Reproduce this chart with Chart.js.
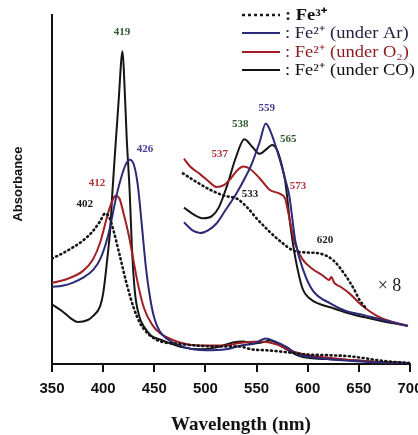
<!DOCTYPE html>
<html><head><meta charset="utf-8">
<script src="https://cdn.jsdelivr.net/npm/chart.js@4.4.1/dist/chart.umd.min.js"></script>
<style>
html,body{margin:0;padding:0;overflow:hidden;background:#fff;width:418px;height:435px}
#wrap{width:440px;height:435px;position:relative}
</style></head>
<body><div id="wrap"><canvas id="c"></canvas></div>
<script>
// ---- tick labels ----
const xTicks = [350, 400, 450, 500, 550, 600, 650, 700];

// ---- main spectra (350-700 nm) ----
const wlFe3 = [350,360,370,380,390,397,402,406,410,416,423,430,436,443,450,460,470,490,510,533,545,560,580,595,620,640,655,675,700];
const absFe3 = [1.08,1.13,1.19,1.26,1.36,1.46,1.54,1.50,1.37,1.12,0.82,0.57,0.42,0.32,0.26,0.22,0.21,0.19,0.18,0.18,0.15,0.14,0.12,0.10,0.09,0.08,0.06,0.03,0.01];

const wlAr = [350,360,370,380,390,397,405,413,418,422,426,430,434,438,442,446,450,455,462,480,500,520,535,548,559,568,580,590,605,630,660,700];
const absAr = [0.79,0.80,0.83,0.88,0.96,1.07,1.32,1.72,1.92,2.04,2.09,2.04,1.82,1.40,0.97,0.67,0.47,0.34,0.26,0.17,0.14,0.15,0.19,0.21,0.26,0.23,0.17,0.10,0.07,0.04,0.02,0.01];

const wlO2 = [350,365,380,390,397,405,409,412,416,420,425,430,434,440,448,455,465,483,500,517,537,554,570,585,600,615,641,670,700];
const absO2 = [0.83,0.87,0.95,1.07,1.24,1.55,1.67,1.72,1.69,1.54,1.32,1.04,0.82,0.57,0.40,0.32,0.26,0.20,0.19,0.19,0.22,0.23,0.20,0.13,0.09,0.07,0.04,0.02,0.01];

const wlCO = [350,360,368,375,385,390,397,400,404,407,409,412,415,419,421,423,426,428,431,435,440,447,456,478,495,511,527,537,546,555,563,576,590,602,620,641,670,700];
const absCO = [0.61,0.54,0.47,0.43,0.45,0.49,0.59,0.72,1.07,1.39,1.75,2.22,2.67,3.20,2.82,2.32,1.75,1.22,0.74,0.50,0.38,0.29,0.25,0.17,0.15,0.17,0.22,0.23,0.21,0.22,0.24,0.17,0.09,0.06,0.05,0.04,0.02,0.01];

// ---- x8 expanded Q-band spectra ----
const wlFe3x8 = [478,490,507,519,531,541,550,563,575,586,600,612,625,636,645,651,657];
const absFe3x8 = [1.95,1.87,1.77,1.72,1.69,1.60,1.49,1.35,1.24,1.16,1.14,1.13,1.06,0.92,0.77,0.65,0.57];

const wlArx8 = [479,487,495,503,511,520,530,538,545,553,559,564,571,578,582,588,596,605,622,638,655,670,698];
const absArx8 = [1.45,1.37,1.34,1.37,1.44,1.58,1.74,1.89,2.04,2.27,2.46,2.37,2.15,1.89,1.72,1.25,0.95,0.75,0.62,0.54,0.50,0.46,0.39];

const wlO2x8 = [479,485,495,504,511,518,525,531,537,543,553,563,573,578,581,587,595,605,614,621,623,626,632,641,654,668,680,698];
const absO2x8 = [2.10,2.02,1.94,1.86,1.81,1.83,1.90,1.98,2.02,2.00,1.90,1.78,1.74,1.69,1.55,1.25,1.07,0.97,0.91,0.86,0.89,0.83,0.79,0.72,0.59,0.49,0.44,0.39];

const wlCOx8 = [479,490,498,506,513,521,530,538,546,553,560,565,570,575,578,583,588,595,602,610,625,640,655,672,698];
const absCOx8 = [1.60,1.52,1.49,1.51,1.60,1.82,2.12,2.30,2.22,2.15,2.20,2.24,2.19,2.02,1.87,1.42,1.08,0.77,0.67,0.62,0.57,0.52,0.48,0.44,0.39];

// ---- peak annotations ----
const peakTexts = ['419','426','412','402','559','538','565','537','573','533','620','\u00d7 8'];
const peakWl    = [418.4, 441, 394, 382, 560, 534, 581, 514, 590.5, 543.6, 617, 680];
const peakAbs   = [3.39, 2.20, 1.85, 1.64, 2.62, 2.45, 2.30, 2.15, 1.82, 1.74, 1.27, 0.80];

// ---- styles ----
const cFe3 = '#161616', cAr = '#2b2a78', cO2 = '#a11e24', cCO = '#151515';
const green = '#2f5a2f', purple = '#4b3b96', red = '#b3363a', blk = '#1a1a1a';
const peakColors = [green, purple, red, blk, purple, green, green, red, red, blk, blk, blk];

const pts = (xs, ys) => xs.map((x, i) => ({x: x, y: ys[i]}));
function ds(label, xs, ys, color, dotted, inLegend) {
  return {
    label: label, data: pts(xs, ys), borderColor: color, backgroundColor: color,
    borderWidth: dotted ? 2.6 : 2, borderDash: dotted ? [1, 3.6] : [],
    borderCapStyle: dotted ? 'round' : 'butt', pointRadius: 0, fill: false,
    cubicInterpolationMode: 'monotone', inLegend: inLegend, dotted: dotted
  };
}

const datasets = [
  ds('Fe\u00b3\u207a', wlFe3, absFe3, cFe3, true, true),
  ds('Fe\u00b2\u207a (under Ar)', wlAr, absAr, cAr, false, true),
  ds('Fe\u00b2\u207a (under O\u2082)', wlO2, absO2, cO2, false, true),
  ds('Fe\u00b2\u207a (under CO)', wlCO, absCO, cCO, false, true),
  ds('Fe\u00b3\u207a \u00d78', wlFe3x8, absFe3x8, cFe3, true, false),
  ds('Ar \u00d78', wlArx8, absArx8, cAr, false, false),
  ds('O\u2082 \u00d78', wlO2x8, absO2x8, cO2, false, false),
  ds('CO \u00d78', wlCOx8, absCOx8, cCO, false, false)
];
const legendTextColors = ['#111', '#222240', '#8e1a1e', '#111'];

const annot = {
  id: 'annot',
  afterDatasetsDraw(chart) {
    const ctx = chart.ctx, xs = chart.scales.x, ys = chart.scales.y;
    ctx.save();
    ctx.textAlign = 'center'; ctx.textBaseline = 'middle';
    peakTexts.forEach((t, i) => {
      ctx.fillStyle = peakColors[i];
      ctx.font = (t.indexOf('\u00d7') >= 0) ? '18px "Liberation Serif"' : 'bold 11px "Liberation Serif"';
      ctx.fillText(t, xs.getPixelForValue(peakWl[i]), ys.getPixelForValue(peakAbs[i]));
    });
    // legend
    const items = chart.data.datasets.filter(d => d.inLegend);
    const rows = [15, 33, 52, 70];
    items.forEach((d, i) => {
      const y = rows[i];
      ctx.beginPath();
      ctx.strokeStyle = d.borderColor; ctx.lineWidth = d.dotted ? 2.6 : 2;
      ctx.setLineDash(d.dotted ? [3, 3] : []);
      ctx.moveTo(242, y); ctx.lineTo(280, y); ctx.stroke();
      ctx.setLineDash([]);
      ctx.fillStyle = legendTextColors[i];
      ctx.textAlign = 'left';
      ctx.save();
      ctx.translate(285, y + 1);
      ctx.scale(1.12, 1);
      ctx.font = (i === 0 ? 'bold ' : '') + '16.5px "Liberation Serif"';
      ctx.fillText(': ' + d.label, 0, 0);
      ctx.restore();
    });
    // axis titles
    ctx.fillStyle = '#111';
    ctx.textAlign = 'center';
    ctx.font = 'bold 19px "Liberation Serif"';
    ctx.fillText('Wavelength (nm)', 241, 425);
    ctx.save();
    ctx.translate(18, 184); ctx.rotate(-Math.PI / 2);
    ctx.font = 'bold 13px "Liberation Sans"';
    ctx.fillText('Absorbance', 0, 0);
    ctx.restore();
    ctx.restore();
  }
};

new Chart(document.getElementById('c'), {
  type: 'line',
  data: { datasets: datasets },
  options: {
    responsive: true, maintainAspectRatio: false, animation: false, devicePixelRatio: 1,
    layout: { padding: { left: 52, top: 15, right: 30, bottom: 29 } },
    plugins: { legend: { display: false }, tooltip: { enabled: false } },
    scales: {
      x: {
        type: 'linear', min: 350, max: 700,
        afterBuildTicks: (s) => { s.ticks = xTicks.map(v => ({value: v})); },
        ticks: { color: '#111', font: { family: '"Liberation Sans"', size: 15, weight: 'bold' }, padding: 8, maxRotation: 0, autoSkip: false },
        grid: { display: true, drawOnChartArea: false, drawTicks: true, tickLength: 8, color: '#111', lineWidth: 2 },
        border: { display: true, color: '#111', width: 2 }
      },
      y: {
        min: 0, max: 3.57,
        ticks: { display: false },
        grid: { display: false, drawTicks: false },
        border: { display: true, color: '#111', width: 2 }
      }
    }
  },
  plugins: [annot]
});
</script>
</body></html>
